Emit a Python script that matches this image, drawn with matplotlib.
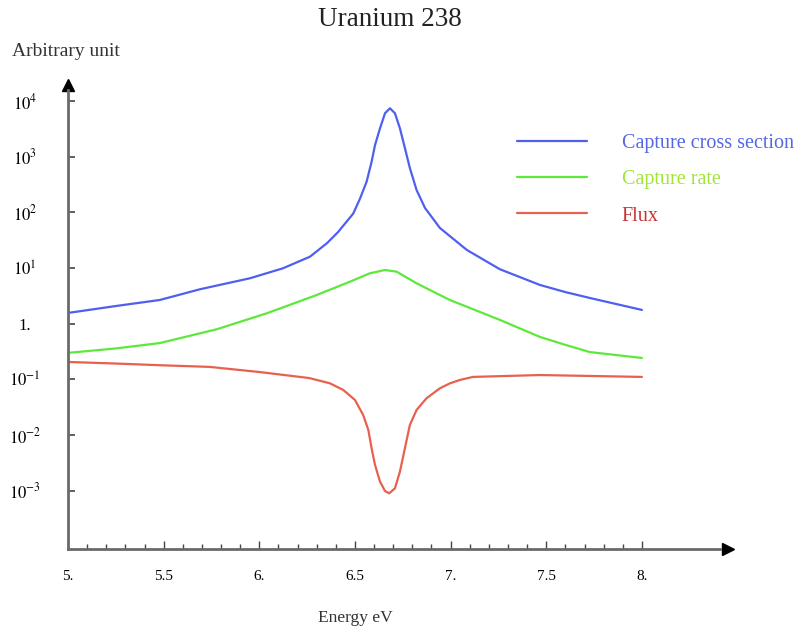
import matplotlib
matplotlib.use("Agg")
import matplotlib.pyplot as plt

# ---------------- data ----------------
energy_sigma = [5.01, 5.25, 5.48, 5.69, 5.951, 6.124, 6.265, 6.354, 6.411, 6.491,
                6.526, 6.561, 6.587, 6.605, 6.631, 6.657, 6.683, 6.709, 6.735,
                6.761, 6.787, 6.822, 6.866, 6.944, 7.085, 7.258, 7.467, 7.6,
                7.728, 8.0]
sigma = [1.58, 2.08, 2.67, 4.16, 6.55, 9.9, 16.0, 28, 44, 95,
         175, 355, 811, 1618, 3228, 6000, 7380, 6000, 3228,
         1430, 625, 252, 120, 52.4, 21.1, 9.5, 4.97, 3.7,
         2.9, 1.77]

energy_rate = [5.0, 5.25, 5.48, 5.777, 6.039, 6.3, 6.474, 6.578, 6.657, 6.718,
               6.822, 6.996, 7.258, 7.467, 7.6, 7.728, 8.0]
rate = [0.30, 0.36, 0.45, 0.795, 1.54, 3.28, 5.69, 8.05, 9.22, 8.6,
        5.32, 2.67, 1.17, 0.58, 0.417, 0.31, 0.243]

energy_flux = [5.0, 5.25, 5.48, 5.74, 6.0, 6.26, 6.369, 6.439, 6.5, 6.543,
               6.57, 6.587, 6.605, 6.631, 6.657, 6.679, 6.709, 6.735, 6.761,
               6.787, 6.822, 6.874, 6.944, 6.997, 7.049, 7.117, 7.467, 8.0]
flux = [0.206, 0.193, 0.18, 0.168, 0.136, 0.106, 0.0853, 0.0647, 0.0428, 0.0230,
        0.01237, 0.0058, 0.00291, 0.00146, 0.000993, 0.000903, 0.00111, 0.00221, 0.0058,
        0.0152, 0.0283, 0.0459, 0.0694, 0.0853, 0.098, 0.111, 0.12, 0.111]

series_labels = ["Capture cross section", "Capture rate", "Flux"]
line_colors = ["#4f5ff0", "#5de83c", "#e8604e"]
text_colors = ["#5468e0", "#a2e43e", "#c83232"]

x_ticks = [5.0, 5.5, 6.0, 6.5, 7.0, 7.5, 8.0]
x_tick_labels = ["5.", "5.5", "6.", "6.5", "7.", "7.5", "8."]
x_minor = [5.1, 5.2, 5.3, 5.4, 5.6, 5.7, 5.8, 5.9, 6.1, 6.2, 6.3, 6.4,
           6.6, 6.7, 6.8, 6.9, 7.1, 7.2, 7.3, 7.4, 7.6, 7.7, 7.8, 7.9]
y_ticks = [1e4, 1e3, 1e2, 1e1, 1, 1e-1, 1e-2, 1e-3]
y_tick_labels = [r"$10^{4}$", r"$10^{3}$", r"$10^{2}$", r"$10^{1}$", "1.",
                 r"$10^{-1}$", r"$10^{-2}$", r"$10^{-3}$"]

# ---------------- figure ----------------
plt.rcParams["font.family"] = ["Liberation Serif", "DejaVu Serif"]
plt.rcParams["mathtext.fontset"] = "stix"

fig = plt.figure(figsize=(8, 6.3), dpi=100)
W, H = 800, 630
ax = fig.add_axes([68 / W, 1 - 549 / H, (728 - 68) / W, (549 - 85) / H])

series = [(energy_sigma, sigma), (energy_rate, rate), (energy_flux, flux)]
for (xs, ys), c, lab in zip(series, line_colors, series_labels):
    ax.plot(xs, ys, color=c, lw=1.6, label=lab, solid_capstyle="round",
            solid_joinstyle="round")

ax.set_yscale("log")
ax.set_xlim(5.0, 8.45)
ax.set_ylim(10 ** -4.044, 10 ** 4.286)

for s in ["top", "right"]:
    ax.spines[s].set_visible(False)
for s in ["left", "bottom"]:
    ax.spines[s].set_color("#6a6a6a")
    ax.spines[s].set_linewidth(2.0)
ax.spines["bottom"].set_bounds(5.0, 8.41)
ax.spines["left"].set_bounds(10 ** -4.044, 10 ** 4.2)

# arrowheads
ax.plot([1.0], [0.0], marker=">", color="black", markersize=9,
        transform=ax.transAxes, clip_on=False)
ax.plot([0.0], [1.0], marker="^", color="black", markersize=9,
        transform=ax.transAxes, clip_on=False)

ax.set_xticks(x_ticks)
ax.set_xticklabels(x_tick_labels)
ax.set_xticks(x_minor, minor=True)
ax.tick_params(axis="x", which="major", direction="in", length=6, width=1.0,
               color="#444444", labelsize=11, pad=15)
ax.tick_params(axis="x", which="minor", direction="in", length=3.5, width=1.0,
               color="#444444")

ax.set_yticks(y_ticks)
ax.set_yticklabels(y_tick_labels)
ax.yaxis.set_minor_locator(matplotlib.ticker.NullLocator())
ax.tick_params(axis="y", which="major", direction="in", length=5, width=1.2,
               color="#444444", labelsize=12, pad=31)
for lbl in ax.get_yticklabels():
    lbl.set_horizontalalignment("center")

# texts
fig.text(390 / W, 1 - 20 / H, "Uranium 238", ha="center", va="center",
         fontsize=19.5, color="#222222")
fig.text(12 / W, 1 - 52 / H, "Arbitrary unit", ha="left", va="center",
         fontsize=14, color="#333333")
fig.text(355 / W, 1 - 618 / H, "Energy eV", ha="center", va="center",
         fontsize=12.5, color="#333333")

leg = ax.legend(loc="upper left", bbox_to_anchor=(517 / W, 1 - 134 / H),
                bbox_transform=fig.transFigure, frameon=False, fontsize=14.5,
                handlelength=3.5, handletextpad=1.7, labelspacing=0.85,
                borderpad=0, borderaxespad=0, labelcolor=text_colors)

fig.savefig("out.png", dpi=100, facecolor="white")
